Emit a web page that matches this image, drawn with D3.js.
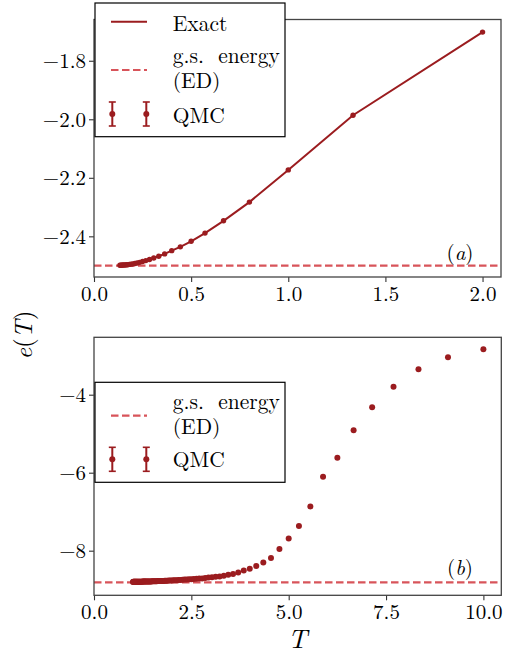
<!DOCTYPE html>
<html>
<head>
<meta charset="utf-8">
<script src="https://cdn.jsdelivr.net/npm/d3@7"></script>
<style>
  body { margin: 0; background: #fff; }
  svg { display: block; }
</style>
</head>
<body>
<svg id="chart" width="513" height="656"></svg>
<script>
// ---------- data ----------
// panel (a): low temperature range
const exactT = [2.0, 1.3333, 1.0, 0.8, 0.6667, 0.5714, 0.5, 0.4444, 0.4, 0.3636, 0.3333, 0.3077, 0.2857, 0.2667, 0.25, 0.2353, 0.2222, 0.2105, 0.2, 0.1905, 0.1818, 0.1739, 0.1667, 0.16, 0.1538, 0.1481, 0.1429, 0.1379, 0.1333];
const exactE = [-1.702, -1.986, -2.173, -2.283, -2.347, -2.389, -2.417, -2.436, -2.449, -2.460, -2.468, -2.474, -2.479, -2.483, -2.486, -2.489, -2.491, -2.493, -2.494, -2.495, -2.496, -2.497, -2.497, -2.498, -2.498, -2.498, -2.499, -2.499, -2.499];
const qmcTa = [2.0, 1.3333, 1.0, 0.8, 0.6667, 0.5714, 0.5, 0.4444, 0.4, 0.3636, 0.3333, 0.3077, 0.2857, 0.2667, 0.25, 0.2353, 0.2222, 0.2105, 0.2, 0.1905, 0.1818, 0.1739, 0.1667, 0.16, 0.1538, 0.1481, 0.1429, 0.1379, 0.1333];
const qmcEa = [-1.702, -1.986, -2.173, -2.283, -2.347, -2.389, -2.417, -2.436, -2.449, -2.460, -2.468, -2.474, -2.479, -2.483, -2.486, -2.489, -2.491, -2.493, -2.494, -2.495, -2.496, -2.497, -2.497, -2.498, -2.498, -2.498, -2.499, -2.499, -2.499];
const gsEnergyA = -2.5;

// panel (b): wide temperature range
const qmcTb = [10.0, 9.091, 8.333, 7.692, 7.143, 6.667, 6.25, 5.882, 5.556, 5.263,
  5.0, 4.762, 4.545, 4.348, 4.167, 4.0, 3.846, 3.704, 3.571, 3.448,
  3.333, 3.226, 3.125, 3.030, 2.941, 2.857, 2.778, 2.703, 2.632, 2.564,
  2.5, 2.439, 2.381, 2.326, 2.273, 2.222, 2.174, 2.128, 2.083, 2.041,
  2.0, 1.961, 1.923, 1.887, 1.852, 1.818, 1.786, 1.754, 1.724, 1.695,
  1.667, 1.639, 1.613, 1.587, 1.563, 1.538, 1.515, 1.493, 1.471, 1.449,
  1.429, 1.408, 1.389, 1.370, 1.351, 1.333, 1.316, 1.299, 1.282, 1.266,
  1.25, 1.235, 1.220, 1.205, 1.190, 1.176, 1.163, 1.149, 1.136, 1.124,
  1.111, 1.099, 1.087, 1.075, 1.064, 1.053, 1.042, 1.031, 1.020, 1.010, 1.0];
const qmcEb = [-2.836, -3.04, -3.349, -3.795, -4.323, -4.913, -5.615, -6.103, -6.864, -7.367,
  -7.69, -7.957, -8.187, -8.30, -8.39, -8.46, -8.51, -8.56, -8.60, -8.62,
  -8.64, -8.66, -8.67, -8.68, -8.69, -8.70, -8.71, -8.715, -8.72, -8.725,
  -8.73, -8.735, -8.74, -8.742, -8.745, -8.75, -8.752, -8.755, -8.758, -8.76,
  -8.763, -8.765, -8.767, -8.769, -8.771, -8.773, -8.775, -8.776, -8.777, -8.778,
  -8.779, -8.780, -8.781, -8.782, -8.783, -8.784, -8.785, -8.786, -8.787, -8.787,
  -8.788, -8.789, -8.789, -8.790, -8.790, -8.791, -8.791, -8.792, -8.792, -8.793,
  -8.793, -8.794, -8.794, -8.795, -8.795, -8.795, -8.796, -8.796, -8.796, -8.797,
  -8.797, -8.797, -8.798, -8.798, -8.798, -8.798, -8.799, -8.799, -8.799, -8.799, -8.800];
const gsEnergyB = -8.81;

// ticks and labels
const xTicksA = [0.0, 0.5, 1.0, 1.5, 2.0];
const yTicksA = [-1.8, -2.0, -2.2, -2.4];
const xTicksB = [0.0, 2.5, 5.0, 7.5, 10.0];
const yTicksB = [-4, -6, -8];
const legendA = ["Exact", "g.s.  energy|(ED)", "QMC"];
const legendB = ["g.s.  energy|(ED)", "QMC"];
const panelLabels = ["a", "b"];

// ---------- style ----------
const FONT = '"Latin Modern Roman", "CMU Serif", "Liberation Serif", serif';
const dark = "#9b1c1f";
const light = "#d8545a";
const svg = d3.select("#chart");

function txt(sel) {
  return sel.style("font-family", FONT).style("fill", "#000");
}

function panel(cfg) {
  const g = svg.append("g");
  const x = d3.scaleLinear().domain(cfg.xDomain).range([cfg.left, cfg.right]);
  const y = d3.scaleLinear().domain(cfg.yDomain).range([cfg.bottom, cfg.top]);

  // gs energy dashed line (full width)
  g.append("line")
    .attr("x1", cfg.left).attr("x2", cfg.right)
    .attr("y1", y(cfg.gs)).attr("y2", y(cfg.gs))
    .attr("stroke", light).attr("stroke-width", 2.2)
    .attr("stroke-dasharray", "7.5,3.5");

  // exact line
  if (cfg.exactT) {
    const line = d3.line().x((d, i) => x(cfg.exactT[i])).y((d, i) => y(cfg.exactE[i]));
    g.append("path").datum(cfg.exactT)
      .attr("d", line).attr("fill", "none")
      .attr("stroke", dark).attr("stroke-width", 2);
  }
  // qmc markers
  g.selectAll("circle.q").data(cfg.qT).join("circle")
    .attr("class", "q")
    .attr("cx", d => x(d))
    .attr("cy", (d, i) => y(cfg.qE[i]))
    .attr("r", cfg.r).attr("fill", dark);

  // axes
  const xa = g.append("g").attr("transform", `translate(0,${cfg.bottom})`)
    .call(d3.axisBottom(x).tickValues(cfg.xTicks).tickFormat(d3.format(".1f")).tickSize(5).tickSizeOuter(0).tickPadding(4));
  const ya = g.append("g").attr("transform", `translate(${cfg.left},0)`)
    .call(d3.axisLeft(y).tickValues(cfg.yTicks).tickFormat(cfg.yFmt).tickSize(5).tickSizeOuter(0).tickPadding(3));
  [xa, ya].forEach(a => {
    a.select(".domain").remove();
    a.selectAll(".tick line").attr("stroke", "#333").attr("stroke-width", 1.1);
    txt(a.selectAll(".tick text")).style("font-size", "21px");
  });

  // frame
  g.append("rect")
    .attr("x", cfg.left).attr("y", cfg.top)
    .attr("width", cfg.right - cfg.left).attr("height", cfg.bottom - cfg.top)
    .attr("fill", "none").attr("stroke", "#444").attr("stroke-width", 1.3);

  // panel label
  const pl = txt(g.append("text")).attr("x", cfg.labelX).attr("y", cfg.labelY)
    .attr("text-anchor", "middle").style("font-size", "21px");
  pl.append("tspan").text("(");
  pl.append("tspan").style("font-style", "italic").text(cfg.label);
  pl.append("tspan").text(")");

  // legend
  const L = cfg.legend;
  g.append("rect").attr("x", L.x).attr("y", L.y).attr("width", L.w).attr("height", L.h)
    .attr("fill", "#fff").attr("stroke", "#000").attr("stroke-width", 1.2);
  L.items.forEach((lab, i) => {
    const cy = L.rows[i];
    if (lab === "Exact") {
      g.append("line").attr("x1", 111).attr("x2", 147).attr("y1", cy).attr("y2", cy)
        .attr("stroke", dark).attr("stroke-width", 2);
    } else if (lab === "QMC") {
      [112.3, 146.3].forEach(px => {
        g.append("line").attr("x1", px).attr("x2", px).attr("y1", cy - 12).attr("y2", cy + 12)
          .attr("stroke", dark).attr("stroke-width", 2);
        [cy - 12, cy + 12].forEach(cc => g.append("line")
          .attr("x1", px - 3.5).attr("x2", px + 3.5).attr("y1", cc).attr("y2", cc)
          .attr("stroke", dark).attr("stroke-width", 1.6));
        g.append("circle").attr("cx", px).attr("cy", cy).attr("r", 3).attr("fill", dark);
      });
    } else {
      g.append("line").attr("x1", 111).attr("x2", 147).attr("y1", cy).attr("y2", cy)
        .attr("stroke", light).attr("stroke-width", 2.2).attr("stroke-dasharray", "7.5,3.5");
    }
    const parts = lab.split("|");
    const t = txt(g.append("text")).attr("x", 172.7).attr("y", L.base[i])
      .style("font-size", "21.5px").style("white-space", "pre");
    parts.forEach((p, k) => {
      t.append("tspan").attr("x", 172.7).attr("dy", k === 0 ? 0 : 25).text(p);
    });
  });
}

panel({
  left: 94, right: 501, top: 19.5, bottom: 277,
  xDomain: [0, 2.095], yDomain: [-2.539, -1.659],
  xTicks: xTicksA, yTicks: yTicksA, yFmt: d3.format(".1f"),
  gs: gsEnergyA, exactT: exactT, exactE: exactE, qT: qmcTa, qE: qmcEa, r: 2.7,
  label: panelLabels[0], labelX: 460, labelY: 259.5,
  legend: { x: 95, y: 3, w: 190, h: 133.7, items: legendA, rows: [21.7, 70, 114], base: [30.5, 63.3, 123] }
});

panel({
  left: 94, right: 501.3, top: 337.3, bottom: 595.3,
  xDomain: [0, 10.46], yDomain: [-9.144, -2.528],
  xTicks: xTicksB, yTicks: yTicksB, yFmt: d3.format("d"),
  gs: gsEnergyB, qT: qmcTb, qE: qmcEb, r: 3,
  label: panelLabels[1], labelX: 460, labelY: 575,
  legend: { x: 95, y: 382.3, w: 190, h: 100, items: legendB, rows: [415.7, 459.3], base: [408.5, 466.7] }
});

// axis labels
txt(svg.append("text")).attr("x", 297.5).attr("y", 647.5).attr("text-anchor", "middle")
  .style("font-size", "27px").style("font-style", "italic").text("T");
const yl = txt(svg.append("text")).attr("transform", "translate(32,335) rotate(-90)")
  .attr("text-anchor", "middle").style("font-size", "25px");
yl.append("tspan").style("font-style", "italic").text("e");
yl.append("tspan").text("(");
yl.append("tspan").style("font-style", "italic").text("T");
yl.append("tspan").text(")");
</script>
</body>
</html>
